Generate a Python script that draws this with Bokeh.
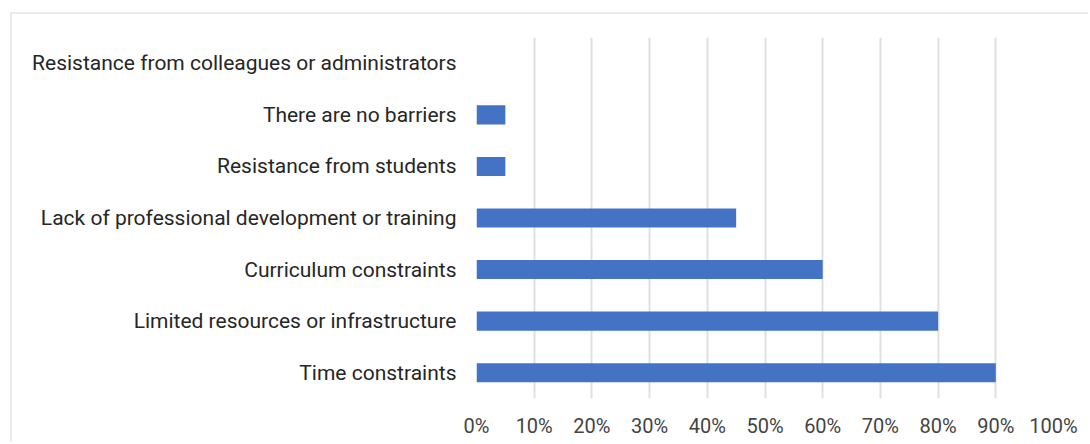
from bokeh.plotting import figure
from bokeh.models import FactorRange, Range1d, FixedTicker, PrintfTickFormatter
from bokeh.embed import file_html
from bokeh.resources import INLINE

categories = [
    "Resistance from colleagues or administrators",
    "There are no barriers",
    "Resistance from students",
    "Lack of professional development or training",
    "Curriculum constraints",
    "Limited resources or infrastructure",
    "Time constraints",
]
values = [0, 5, 5, 45, 60, 80, 90]
x_ticks = [0, 10, 20, 30, 40, 50, 60, 70, 80, 90, 100]

p = figure(
    width=1078, height=430,
    y_range=FactorRange(factors=categories[::-1]),
    x_range=Range1d(0, 100),
    output_backend="svg", toolbar_location=None,
    min_border_left=464, min_border_right=37, min_border_top=23, min_border_bottom=46,
)
p.styles = {"margin-left": "10px", "margin-top": "12px",
            "border-top": "2px solid #ececec", "border-left": "2px solid #ececec"}

p.hbar(y=categories, right=values, left=0, height=0.37,
       fill_color="#4472c4", line_color=None)

p.outline_line_color = None
p.ygrid.grid_line_color = None
p.xgrid.grid_line_color = "#e0e0e0"
p.xgrid.grid_line_width = 2
p.xaxis.ticker = FixedTicker(ticks=x_ticks)
p.xaxis.formatter = PrintfTickFormatter(format="%d%%")

for ax in (p.xaxis, p.yaxis):
    ax.axis_line_color = None
    ax.major_tick_line_color = None
    ax.minor_tick_line_color = None
    ax.major_label_text_font = "Roboto"

p.yaxis.major_label_text_font_size = "21px"
p.xaxis.major_label_text_font_size = "20px"
p.yaxis.major_label_text_color = "#262626"
p.xaxis.major_label_text_color = "#444444"
p.yaxis.major_label_standoff = 14
p.xaxis.major_label_standoff = 9

open("out.html", "w").write(file_html(p, INLINE))
